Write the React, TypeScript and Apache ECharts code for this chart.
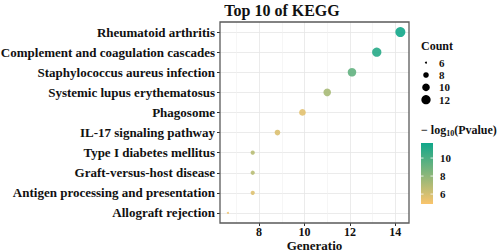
import React, { useEffect, useRef } from "react";
import * as echarts from "echarts";

const categories = [
  "Rheumatoid arthritis",
  "Complement and coagulation cascades",
  "Staphylococcus aureus infection",
  "Systemic lupus erythematosus",
  "Phagosome",
  "IL-17 signaling pathway",
  "Type I diabetes mellitus",
  "Graft-versus-host disease",
  "Antigen processing and presentation",
  "Allograft rejection",
];
const geneRatio = [14.22, 13.18, 12.09, 11.0, 9.91, 8.81, 7.72, 7.72, 7.72, 6.63];
const counts = [13, 12, 11, 10, 9, 8, 7, 7, 7, 6];
const logP = [11.6, 11.0, 9.3, 7.3, 5.6, 5.8, 6.8, 6.8, 5.7, 5.2];
const xMajorTicks = [8, 10, 12, 14];
const xMinorTicks = [7, 9, 11, 13];
const sizeLegend = [6, 8, 10, 12];
const colorTicks = [6, 8, 10];

const X_MIN = 6.28;
const X_MAX = 14.6;
const C_MIN = 4.9;
const C_MAX = 11.67;
const LOW = "#FAC46C";
const HIGH = "#10A78A";
const FONT = "'Liberation Serif', 'Times New Roman', serif";

const W = 498;
const H = 252;
const G = { left: 220, right: 89, top: 22, bottom: 29 };

const sizeOf = (c: number) => 2 * Math.sqrt(1 + ((c - 6) * 24) / 7);

export default function App() {
  const ref = useRef<HTMLDivElement>(null);
  useEffect(() => {
    if (!ref.current) return;
    const chart = echarts.init(ref.current, null, { renderer: "svg" });
    const data = categories.map((c, i) => [geneRatio[i], c, counts[i], logP[i]]);

    const barTop = 143;
    const barH = 61;
    const barX = 421;
    const barW = 12;
    const yOf = (v: number) => barTop + ((C_MAX - v) / (C_MAX - C_MIN)) * barH;

    const graphics: any[] = [
      {
        type: "rect",
        z: 100,
        silent: true,
        shape: { x: G.left, y: G.top, width: W - G.left - G.right, height: H - G.top - G.bottom },
        style: { fill: "none", stroke: "#5a5a5a", lineWidth: 1.3 },
      },
      { type: "text", x: 421, y: 46, style: { text: "Count", font: `bold 12px ${FONT}`, fill: "#111", verticalAlign: "middle" } },
    ];
    const legendY = [62.7, 75, 87.3, 99.7];
    sizeLegend.forEach((c, i) => {
      graphics.push({ type: "circle", shape: { cx: 426, cy: legendY[i], r: sizeOf(c) / 2 }, style: { fill: "#000" } });
      graphics.push({
        type: "text",
        x: 439,
        y: legendY[i],
        style: { text: String(c), font: `bold 11px ${FONT}`, fill: "#111", verticalAlign: "middle" },
      });
    });
    graphics.push({
      type: "text",
      x: 421,
      y: 130,
      style: {
        text: "− log{s|10}(Pvalue)",
        font: `bold 12px ${FONT}`,
        fill: "#111",
        verticalAlign: "middle",
        rich: { s: { font: `bold 8px ${FONT}`, fill: "#111", padding: [6, 0, 0, 0] } },
      },
    });
    graphics.push({
      type: "rect",
      shape: { x: barX, y: barTop, width: barW, height: barH },
      style: {
        fill: new echarts.graphic.LinearGradient(0, 0, 0, 1, [
          { offset: 0, color: HIGH },
          { offset: 1, color: LOW },
        ]),
      },
    });
    colorTicks.forEach((v) => {
      const y = yOf(v);
      graphics.push({ type: "line", shape: { x1: barX, y1: y, x2: barX + 2.5, y2: y }, style: { stroke: "#fff", lineWidth: 0.8 } });
      graphics.push({ type: "line", shape: { x1: barX + barW - 2.5, y1: y, x2: barX + barW, y2: y }, style: { stroke: "#fff", lineWidth: 0.8 } });
      graphics.push({
        type: "text",
        x: 440,
        y,
        style: { text: String(v), font: `bold 11px ${FONT}`, fill: "#111", verticalAlign: "middle" },
      });
    });

    chart.setOption({
      animation: false,
      backgroundColor: "#fff",
      title: {
        text: "Top 10 of KEGG",
        left: 277,
        top: -3,
        textAlign: "center",
        textStyle: { fontFamily: FONT, fontWeight: "bold", fontSize: 16, color: "#111" },
      },
      grid: {
        ...G,
        containLabel: false,
        outerBoundsMode: "none",
        show: false,
      } as any,
      xAxis: [
        {
          type: "value",
          min: X_MIN,
          max: X_MAX,
          position: "bottom",
          name: "Generatio",
          nameLocation: "middle",
          nameGap: 16,
          nameMoveOverlap: false,
          nameTextStyle: {
            fontFamily: FONT,
            fontWeight: "bold",
            fontSize: 13,
            lineHeight: 13,
            color: "#111",
            verticalAlign: "top",
          },
          axisLine: { show: false },
          axisTick: { show: true, length: 3, customValues: xMajorTicks, lineStyle: { color: "#333" } },
          axisLabel: {
            customValues: xMajorTicks,
            fontFamily: FONT,
            fontWeight: "bold",
            fontSize: 12,
            lineHeight: 12,
            color: "#111",
            margin: 3,
          },
          splitLine: { show: true, lineStyle: { color: "#e6e6e6", width: 0.8 } },
        },
        {
          type: "value",
          min: X_MIN,
          max: X_MAX,
          position: "top",
          axisLine: { show: false },
          axisTick: { show: false, customValues: xMinorTicks },
          axisLabel: { show: false, customValues: xMinorTicks },
          splitLine: { show: true, lineStyle: { color: "#f0f0f0", width: 0.6 } },
        },
      ],
      yAxis: {
        type: "category",
        data: categories,
        inverse: true,
        boundaryGap: true,
        axisLine: { show: false },
        axisTick: { show: true, alignWithLabel: true, length: 3, lineStyle: { color: "#333" } },
        axisLabel: { fontFamily: FONT, fontWeight: "bold", fontSize: 13, color: "#111", margin: 5 },
        splitLine: { show: true, alignWithLabel: true, lineStyle: { color: "#e6e6e6", width: 0.8 } },
      } as any,
      visualMap: {
        show: false,
        type: "continuous",
        dimension: 3,
        min: C_MIN,
        max: C_MAX,
        inRange: { color: [LOW, HIGH] },
      },
      series: [
        {
          type: "scatter",
          xAxisIndex: 0,
          data,
          symbolSize: (v: any) => sizeOf(v[2]),
          itemStyle: { opacity: 0.9 },
        },
      ],
      graphic: graphics,
    });
    return () => chart.dispose();
  }, []);
  return <div ref={ref} style={{ position: "fixed", left: 0, top: 0, width: W, height: H }} />;
}
